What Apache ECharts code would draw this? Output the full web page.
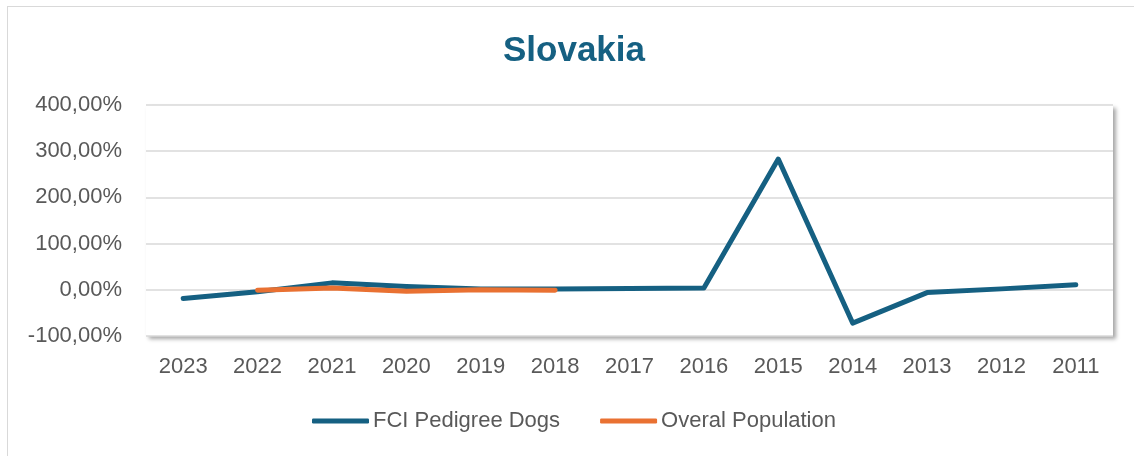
<!DOCTYPE html>
<html>
<head>
<meta charset="utf-8">
<script src="https://cdn.jsdelivr.net/npm/echarts@6/dist/echarts.min.js"></script>
<style>
	html, body { margin: 0; padding: 0; background: #fff; }
	#frame { position: absolute; left: 7px; top: 6px; width: 1140px; height: 470px; border: 1px solid #d9d9d9; }
	#chartWrapper { position: absolute; left: 0; top: 0; width: 1134px; height: 456px; }
</style>
</head>
<body>
<div id="frame"></div>
<div id="chartWrapper"></div>
<script>
const years = ["2023", "2022", "2021", "2020", "2019", "2018", "2017", "2016", "2015", "2014", "2013", "2012", "2011"]
const fciDogs = [-19, -4, 15, 7, 2, 2, 3, 4, 283, -72, -6, 2, 11] // FCI Pedigree Dogs
const overalPop = [null, -1, 4, -3, 0, -1, null, null, null, null, null, null, null] // Overal Population
const yTicks = { min: -100, max: 400, interval: 100 }

const fontFam = "'Liberation Sans', Arial, sans-serif"
const myChart = echarts.init(document.getElementById("chartWrapper"))

let option = {
	animation: false,
	title: {
		text: "Slovakia",
		left: 569,
		textAlign: "center",
		top: 29,
		textStyle: { color: "#156082", fontSize: 35, fontWeight: "bold", fontFamily: fontFam }
	},
	legend: {
		bottom: 19,
		left: 307,
		icon: "roundRect",
		itemWidth: 57,
		itemHeight: 5,
		itemGap: 40,
		textStyle: { color: "#595959", fontSize: 22, fontFamily: fontFam, padding: [0, 0, 0, -1] },
		data: ["FCI Pedigree Dogs", "Overal Population"]
	},
	grid: {
		left: 146,
		right: 21,
		top: 105,
		bottom: 120,
		show: true,
		backgroundColor: "#fff",
		borderWidth: 0,
		shadowColor: "rgba(0,0,0,0.35)",
		shadowBlur: 4,
		shadowOffsetX: 3,
		shadowOffsetY: 3
	},
	xAxis: [{
		type: "category",
		data: years,
		boundaryGap: true,
		axisLine: { show: false },
		axisTick: { show: false },
		axisLabel: { color: "#595959", fontSize: 22, fontFamily: fontFam, margin: 20 }
	}],
	yAxis: [{
		type: "value",
		min: yTicks.min,
		max: yTicks.max,
		interval: yTicks.interval,
		axisLine: { show: false },
		axisTick: { show: false },
		splitLine: { lineStyle: { color: "#d9d9d9", width: 1.5 } },
		axisLabel: {
			color: "#595959", fontSize: 22, fontFamily: fontFam, margin: 24,
			formatter: v => v.toFixed(2).replace(".", ",") + "%"
		}
	}],
	series: [
		{
			name: "FCI Pedigree Dogs",
			type: "line",
			data: fciDogs,
			showSymbol: false,
			symbol: "none",
			itemStyle: { color: "#156082" },
			lineStyle: { color: "#156082", width: 5, cap: "round", join: "round" }
		},
		{
			name: "Overal Population",
			type: "line",
			data: overalPop,
			showSymbol: false,
			symbol: "none",
			itemStyle: { color: "#E97132" },
			lineStyle: { color: "#E97132", width: 5, cap: "round", join: "round" }
		}
	]
}

myChart.setOption(option)
</script>
</body>
</html>
